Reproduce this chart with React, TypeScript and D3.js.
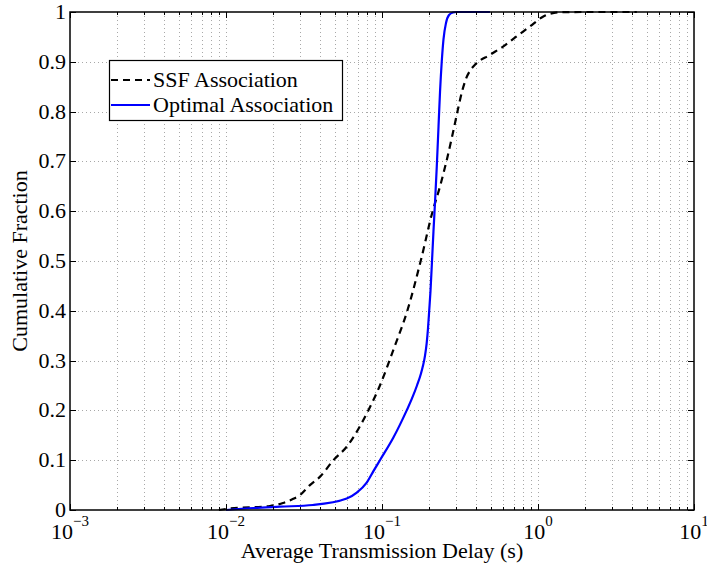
import React from "react";
import * as d3 from "d3";

// CDF of average transmission delay (seconds) for two association schemes
const ssfDelay = [0.009, 0.0106, 0.0191, 0.0232, 0.0268, 0.0298, 0.0345, 0.0401, 0.0488, 0.0594, 0.0817, 0.097, 0.1194, 0.1453, 0.177, 0.2112, 0.2355, 0.2611, 0.2851, 0.307, 0.3257, 0.3455, 0.3665, 0.394, 0.492, 0.6, 0.729, 0.889, 1.082, 1.38, 2.0, 4.3];
const ssfFraction = [0, 0.003, 0.008, 0.014, 0.022, 0.03, 0.05, 0.067, 0.1, 0.127, 0.2, 0.25, 0.325, 0.4, 0.5, 0.6, 0.65, 0.705, 0.758, 0.805, 0.84, 0.866, 0.882, 0.894, 0.914, 0.931, 0.951, 0.971, 0.991, 0.9995, 1, 1];

const optDelay = [0.01, 0.015, 0.0222, 0.0361, 0.0594, 0.0689, 0.0798, 0.0881, 0.097, 0.1181, 0.144, 0.1557, 0.1676, 0.1778, 0.1832, 0.1887, 0.1934, 0.1972, 0.2007, 0.2046, 0.2092, 0.2138, 0.2189, 0.2245, 0.2303, 0.2355, 0.2415, 0.2478, 0.2572, 0.2689, 0.2851, 0.3, 0.492];
const optFraction = [0, 0.004, 0.0067, 0.01, 0.023, 0.035, 0.055, 0.078, 0.1, 0.145, 0.2, 0.224, 0.25, 0.274, 0.29, 0.31, 0.335, 0.365, 0.4, 0.44, 0.5, 0.56, 0.62, 0.69, 0.77, 0.84, 0.9, 0.945, 0.978, 0.994, 0.999, 1, 1];

const yTicks = [0, 0.1, 0.2, 0.3, 0.4, 0.5, 0.6, 0.7, 0.8, 0.9, 1];
const yTickLabels = ["0", "0.1", "0.2", "0.3", "0.4", "0.5", "0.6", "0.7", "0.8", "0.9", "1"];
const xDecadeExponents = [-3, -2, -1, 0, 1];

const seriesNames = ["SSF Association", "Optimal Association"];
const xTitle = "Average Transmission Delay (s)";
const yTitle = "Cumulative Fraction";

const W = 707;
const H = 570;
const M = { left: 70, right: 694, top: 12, bottom: 510 };
const FONT = "'Liberation Serif', 'Times New Roman', serif";

export default function App() {
  const x = d3.scaleLog().domain([1e-3, 1e1]).range([M.left, M.right]);
  const y = d3.scaleLinear().domain([0, 1]).range([M.bottom, M.top]);

  const majorX = xDecadeExponents.map((e) => Math.pow(10, e));
  const minorX: number[] = [];
  for (let e = -3; e < 1; e++) {
    for (let k = 2; k <= 9; k++) minorX.push(k * Math.pow(10, e));
  }
  const gridX = [...majorX, ...minorX].filter((v) => v > 1e-3 && v < 1e1);

  const line = d3
    .line<[number, number]>()
    .x((d) => x(d[0]))
    .y((d) => y(d[1]))
    .curve(d3.curveMonotoneX);

  const ssfPath = line(ssfDelay.map((v, i) => [v, ssfFraction[i]] as [number, number])) || "";
  const optPath = line(optDelay.map((v, i) => [v, optFraction[i]] as [number, number])) || "";

  const px = (v: number) => Math.round(v) + 0.5;

  return (
    <svg
      width={W}
      height={H}
      style={{ position: "absolute", left: 0, top: 0, background: "#fff" }}
      fontFamily={FONT}
    >
      <rect x={0} y={0} width={W} height={H} fill="#fff" />
      {/* grid */}
      <g stroke="#a8a8a8" strokeWidth={1} strokeDasharray="1,3" fill="none">
        {gridX.map((v, i) => (
          <line key={"gx" + i} x1={px(x(v))} x2={px(x(v))} y1={M.top} y2={M.bottom} />
        ))}
        {yTicks
          .filter((v) => v > 0 && v < 1)
          .map((v, i) => (
            <line key={"gy" + i} x1={M.left} x2={M.right} y1={px(y(v))} y2={px(y(v))} />
          ))}
      </g>

      {/* curves */}
      <path d={ssfPath} fill="none" stroke="#000" strokeWidth={2.2} strokeDasharray="7,5" />
      <path d={optPath} fill="none" stroke="#0000ff" strokeWidth={2.2} />

      {/* ticks, inward on all four sides */}
      <g stroke="#000" strokeWidth={1}>
        {majorX.map((v, i) => (
          <g key={"mx" + i}>
            <line x1={px(x(v))} x2={px(x(v))} y1={M.bottom} y2={M.bottom - 6} />
            <line x1={px(x(v))} x2={px(x(v))} y1={M.top} y2={M.top + 6} />
          </g>
        ))}
        {minorX.map((v, i) => (
          <g key={"nx" + i}>
            <line x1={px(x(v))} x2={px(x(v))} y1={M.bottom} y2={M.bottom - 3} />
            <line x1={px(x(v))} x2={px(x(v))} y1={M.top} y2={M.top + 3} />
          </g>
        ))}
        {yTicks.map((v, i) => (
          <g key={"my" + i}>
            <line x1={M.left} x2={M.left + 6} y1={px(y(v))} y2={px(y(v))} />
            <line x1={M.right} x2={M.right - 6} y1={px(y(v))} y2={px(y(v))} />
          </g>
        ))}
      </g>

      {/* axes box */}
      <rect
        x={M.left}
        y={M.top}
        width={M.right - M.left}
        height={M.bottom - M.top}
        fill="none"
        stroke="#000"
        strokeWidth={1.5}
      />

      {/* y tick labels */}
      <g fontSize={22} fill="#000" textAnchor="end">
        {yTicks.map((v, i) => (
          <text key={"yl" + i} x={M.left - 4} y={y(v) + 7}>
            {yTickLabels[i]}
          </text>
        ))}
      </g>

      {/* x tick labels: 10 with superscript exponent */}
      <g fill="#000" textAnchor="middle">
        {xDecadeExponents.map((e, i) => {
          const label = e < 0 ? "\u2212" + Math.abs(e) : String(e);
          return (
            <text key={"xl" + i} x={x(Math.pow(10, e))} y={539} fontSize={22}>
              10
              <tspan fontSize={15} dy={-13}>
                {label}
              </tspan>
            </text>
          );
        })}
      </g>

      {/* axis titles */}
      <text x={(M.left + M.right) / 2} y={558} fontSize={22} textAnchor="middle" fill="#000">
        {xTitle}
      </text>
      <text
        transform={`translate(27, ${(M.top + M.bottom) / 2}) rotate(-90)`}
        fontSize={22}
        textAnchor="middle"
        fill="#000"
      >
        {yTitle}
      </text>

      {/* legend */}
      <g>
        <rect x={109.5} y={60.5} width={233} height={60} fill="#fff" stroke="#000" strokeWidth={1.2} />
        <line x1={111} x2={150} y1={80} y2={80} stroke="#000" strokeWidth={2.2} strokeDasharray="7,5" />
        <line x1={111} x2={150} y1={105} y2={105} stroke="#0000ff" strokeWidth={2.2} />
        <text x={153} y={87} fontSize={22} fill="#000">
          {seriesNames[0]}
        </text>
        <text x={153} y={112} fontSize={22} fill="#000">
          {seriesNames[1]}
        </text>
      </g>
    </svg>
  );
}
